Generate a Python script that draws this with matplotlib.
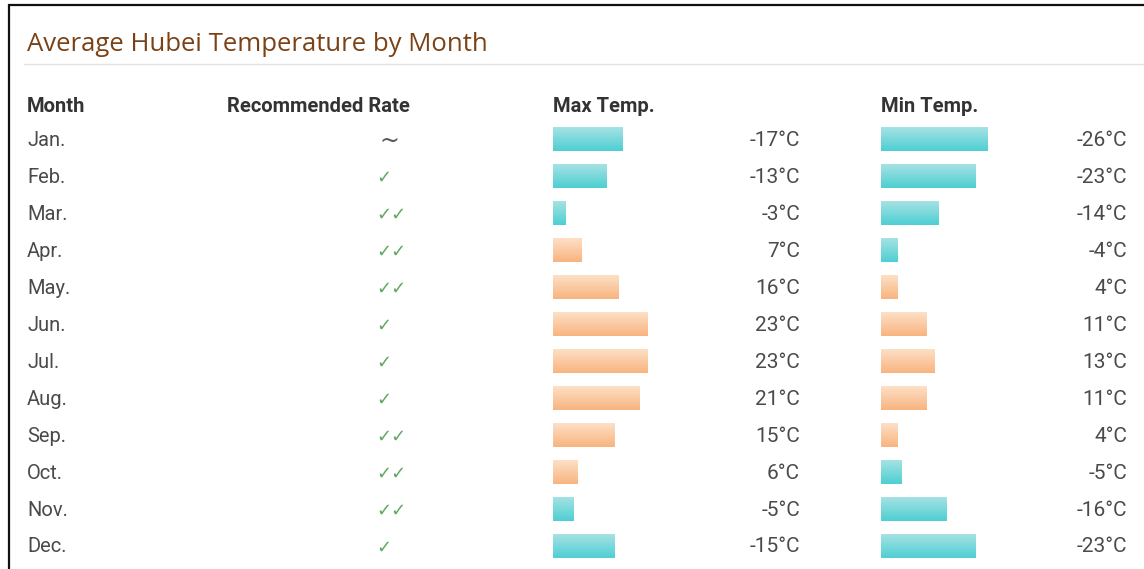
import numpy as np
import matplotlib.pyplot as plt
from matplotlib.colors import LinearSegmentedColormap

# Monthly data
months = ['Jan.', 'Feb.', 'Mar.', 'Apr.', 'May.', 'Jun.', 'Jul.', 'Aug.', 'Sep.', 'Oct.', 'Nov.', 'Dec.']
rates = ['~', '✓', '✓✓', '✓✓', '✓✓', '✓', '✓', '✓', '✓✓', '✓✓', '✓✓', '✓']
max_temp = [-17, -13, -3, 7, 16, 23, 23, 21, 15, 6, -5, -15]
min_temp = [-26, -23, -14, -4, 4, 11, 13, 11, 4, -5, -16, -23]

W, H = 1144, 569
row0, pitch = 139, 37.0
px_per_deg = 4.1
bar_h = 24

text_col = '#4a4a4a'
head_col = '#333333'
cold_cmap = LinearSegmentedColormap.from_list('cold', ['#a6e2e3', '#4ecfd3'])
warm_cmap = LinearSegmentedColormap.from_list('warm', ['#fde0c6', '#f8b47f'])

plt.rcParams['font.family'] = ['Roboto', 'DejaVu Sans']

fig = plt.figure(figsize=(W / 100, H / 100), dpi=100)
fig.patch.set_facecolor('white')

# base layer in pixel coordinates for text and rules
ax = fig.add_axes([0, 0, 1, 1])
ax.set_xlim(0, W)
ax.set_ylim(H, 0)
ax.axis('off')

# frame on the top and left
ax.plot([8, W], [5, 5], color='#111111', lw=1.6, solid_capstyle='butt')
ax.plot([9, 9], [4, H], color='#111111', lw=1.6, solid_capstyle='butt')

ax.text(27, 44, 'Average Hubei Temperature by Month', fontsize=18.5, color='#7a4216',
        family=['Open Sans', 'DejaVu Sans'], va='center', ha='left')
ax.plot([24, W], [64, 64], color='#e2e2e2', lw=1)

headers = [('Month', 27), ('Recommended Rate', 227), ('Max Temp.', 553), ('Min Temp.', 881)]
for label, x in headers:
    ax.text(x, 106, label, fontsize=14.5, fontweight='bold', color=head_col, va='center', ha='left')

row_y = [row0 + i * pitch for i in range(len(months))]

for y, m, r, tmax, tmin in zip(row_y, months, rates, max_temp, min_temp):
    ax.text(27, y + 1, m, fontsize=14.5, color=text_col, va='center', ha='left')
    if r == '~':
        ax.text(379, y + 2, r, fontsize=17, color='#555555', va='center', ha='left',
                family=['DejaVu Sans'])
    else:
        ax.text(376, y + 2, r, fontsize=13, color='#5fa85f', va='center', ha='left',
                family=['DejaVu Sans'])
    ax.text(800, y + 1, f'{tmax}°C', fontsize=15, color=text_col, va='center', ha='right')
    ax.text(1127, y + 1, f'{tmin}°C', fontsize=15, color=text_col, va='center', ha='right')


def bar_column(left_px, values):
    # axes whose x unit is one degree, y shares the pixel rows of the base layer
    bax = fig.add_axes([left_px / W, 0, (W - left_px) / W, 1])
    bax.set_xlim(0, (W - left_px) / px_per_deg)
    bax.set_ylim(H, 0)
    bax.axis('off')
    bars = bax.barh(row_y, [abs(v) for v in values], height=bar_h, left=0,
                    color='none', edgecolor='none')
    grad = np.linspace(0, 1, 64).reshape(-1, 1)
    for patch, v in zip(bars.patches, values):
        cmap = cold_cmap if v < 0 else warm_cmap
        x0, y0 = patch.get_x(), patch.get_y()
        im = bax.imshow(grad, cmap=cmap, aspect='auto', origin='upper',
                        extent=[x0, x0 + patch.get_width(), y0 + patch.get_height(), y0],
                        interpolation='bilinear')
        im.set_clip_path(patch)
    bax.set_xlim(0, (W - left_px) / px_per_deg)
    bax.set_ylim(H, 0)


bar_column(553, max_temp)
bar_column(881, min_temp)

fig.savefig('out.png', dpi=100, facecolor='white')
